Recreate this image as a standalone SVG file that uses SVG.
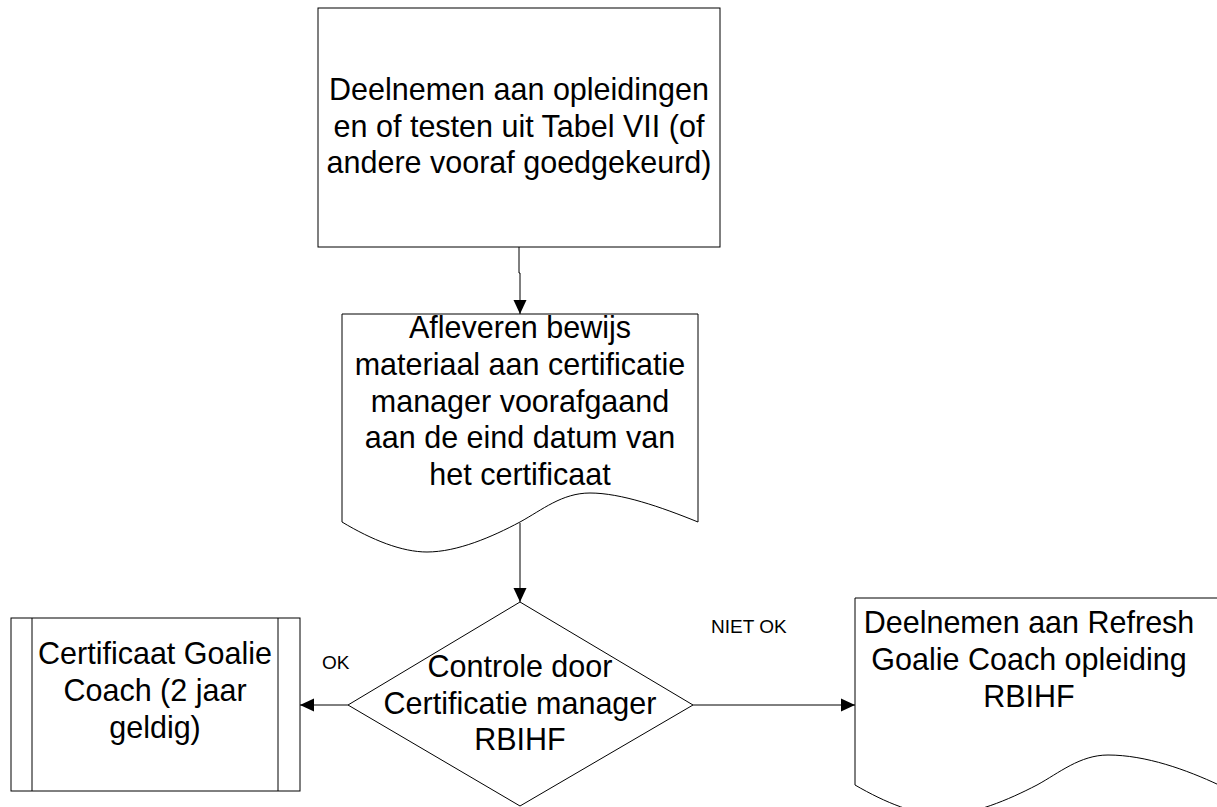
<svg xmlns="http://www.w3.org/2000/svg" width="1217" height="807" viewBox="0 0 1217 807">
<style>
.shape{fill:#fff;stroke:#000;stroke-width:1}
.t{font-family:"Liberation Sans",Arial,sans-serif;font-size:30.5px;fill:#000;text-anchor:middle}
.lbl{font-family:"Liberation Sans",Arial,sans-serif;font-size:19px;fill:#000}
.conn{fill:none;stroke:#000;stroke-width:1}
</style>
<defs>
<marker id="arr" markerUnits="userSpaceOnUse" markerWidth="14" markerHeight="14" viewBox="0 0 14 14" refX="14" refY="7" orient="auto">
<path d="M0,0.5 L14,7 L0,13.5 Z" fill="#000"/>
</marker>
</defs>
<rect width="1217" height="807" fill="#fff"/>
<g id="connectors">
<path class="conn" d="M519,247 L519,273 L520,273 L520,314" marker-end="url(#arr)"/>
<path class="conn" d="M520,523 L520,602" marker-end="url(#arr)"/>
<path class="conn" d="M348,705 L300,705" marker-end="url(#arr)"/>
<path class="conn" d="M693,705 L855,705" marker-end="url(#arr)"/>
<text class="lbl" x="322" y="669">OK</text>
<text class="lbl" x="711" y="633">NIET OK</text>
</g>
<g id="node-deelnemen">
<rect class="shape" x="318" y="8" width="402" height="239"/>
<text class="t" x="519" y="100">Deelnemen aan opleidingen</text>
<text class="t" x="519" y="137">en of testen uit Tabel VII (of</text>
<text class="t" x="519" y="173">andere vooraf goedgekeurd)</text>
</g>
<g id="node-afleveren">
<path class="shape" d="M342,314 L698,314 L698,522 C661,507 621,493 590,493 C562,493 542,510 520,522 C492,537 457,552 427,552 C402,552 372,540 342,522 Z"/>
<text class="t" x="520" y="338">Afleveren bewijs</text>
<text class="t" x="520" y="375">materiaal aan certificatie</text>
<text class="t" x="520" y="412">manager voorafgaand</text>
<text class="t" x="520" y="448">aan de eind datum van</text>
<text class="t" x="520" y="485">het certificaat</text>
</g>
<g id="node-controle">
<path class="shape" d="M520,602 L693,705 L520,806 L348,705 Z"/>
<text class="t" x="520" y="677">Controle door</text>
<text class="t" x="520" y="714">Certificatie manager</text>
<text class="t" x="520" y="750">RBIHF</text>
</g>
<g id="node-certificaat">
<rect class="shape" x="11" y="618" width="289" height="173"/>
<line class="conn" x1="32" y1="618" x2="32" y2="791"/>
<line class="conn" x1="278" y1="618" x2="278" y2="791"/>
<text class="t" x="155" y="664">Certificaat Goalie</text>
<text class="t" x="155" y="701">Coach (2 jaar</text>
<text class="t" x="155" y="738">geldig)</text>
</g>
<g id="node-refresh">
<path class="shape" d="M855,598 L1219,598 L1219,785 C1187,770 1146,755 1108,755 C1080,755 1059,773 1037,785 C1008,800 973,815 942,815 C916,815 886,803 855,785 Z"/>
<text class="t" x="1029" y="633">Deelnemen aan Refresh</text>
<text class="t" x="1029" y="670">Goalie Coach opleiding</text>
<text class="t" x="1029" y="707">RBIHF</text>
</g>
</svg>
